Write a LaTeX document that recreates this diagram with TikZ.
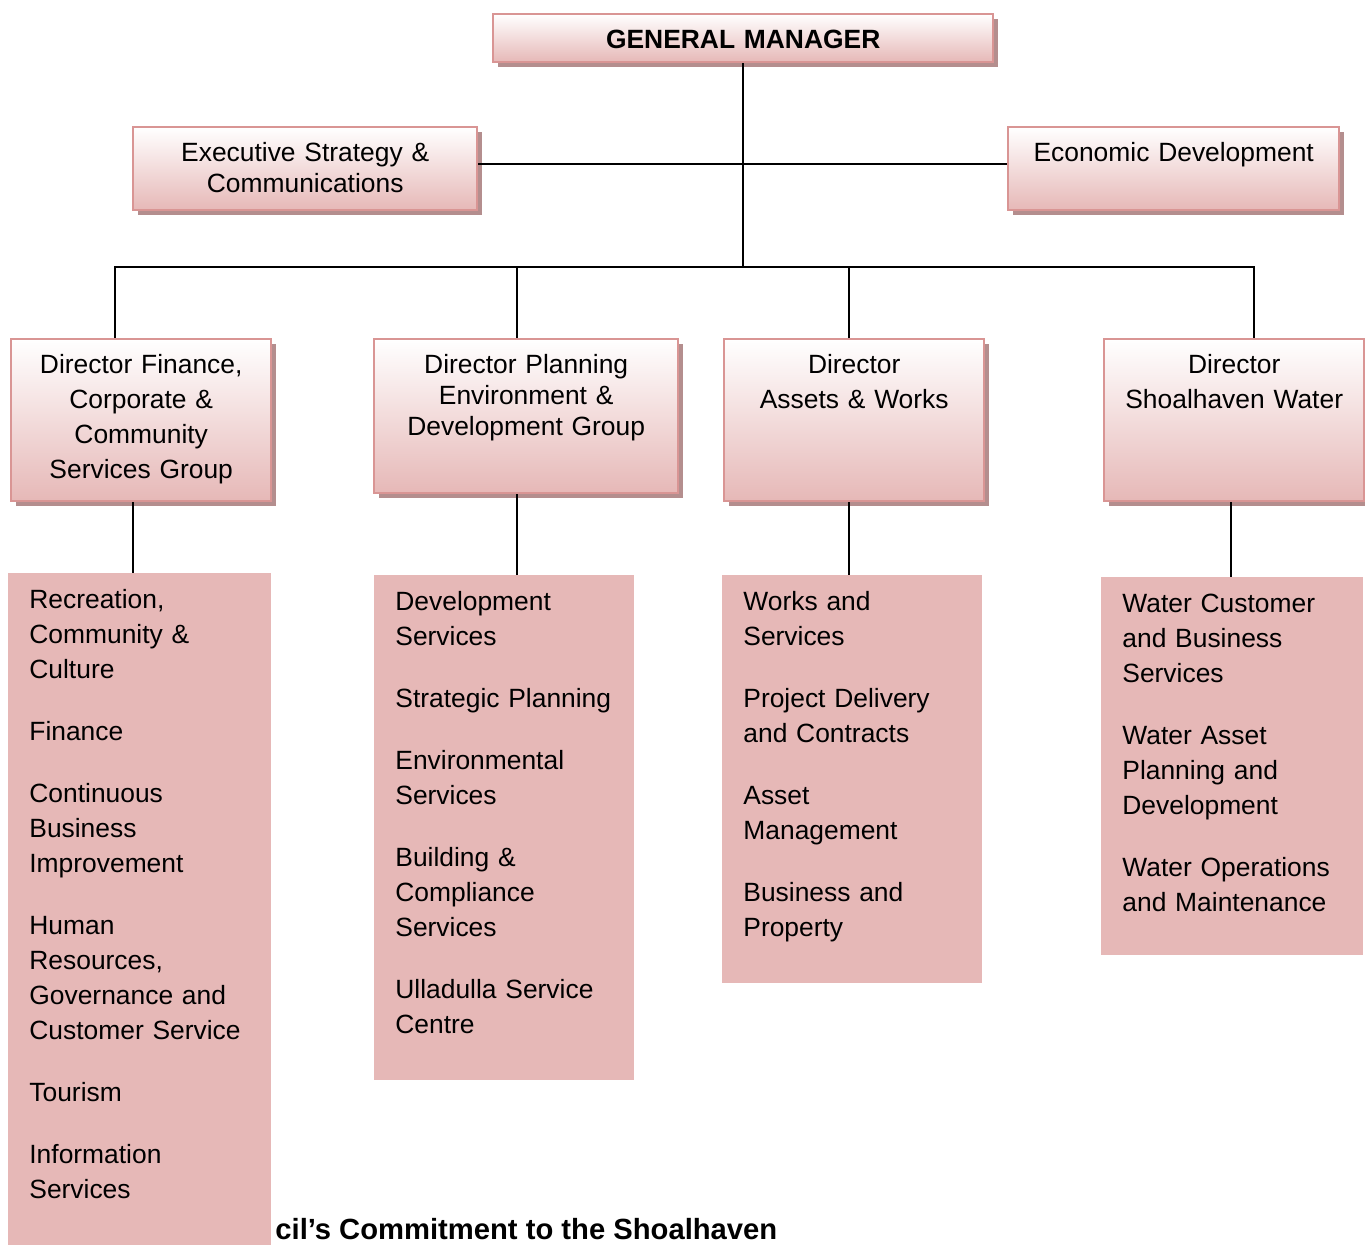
\documentclass[tikz,border=0pt]{standalone}
\usepackage{fontspec}
\setmainfont{Liberation Sans}
\usetikzlibrary{shadows}
\definecolor{boxPink}{RGB}{230,184,183}
\definecolor{boxEdge}{RGB}{217,149,148}
\definecolor{boxShade}{RGB}{180,142,142}

\tikzset{
  headbox/.style={draw=boxEdge, line width=1.2pt, top color=white, bottom color=boxPink,
    drop shadow={shadow xshift=2.5pt, shadow yshift=-2.5pt, fill=boxShade, opacity=1},
    anchor=north west, align=center, inner sep=0pt, text height=17.2pt,
    font=\fontsize{13.2}{17.5}\selectfont},
  unitbox/.style={fill=boxPink, anchor=north west, align=left, inner xsep=10.5pt,
    inner ysep=0pt, text height=17.7pt, font=\fontsize{13.2}{17.5}\selectfont},
  link/.style={line width=1pt}
}

\begin{document}
\begin{tikzpicture}[x=0.5pt, y=-0.5pt]
  \useasboundingbox (0,0) rectangle (1365,1245);

  \node[anchor=base west, inner sep=0pt, font=\bfseries\fontsize{14.6}{16}\selectfont] (tagline) at (275,1239) {cil’s Commitment to the Shoalhaven};

  \node[headbox, text width=250pt, text depth=6.8pt] (gm) at (492,13) {\textbf{GENERAL MANAGER}};
  \node[headbox, text width=172pt, text depth=24.3pt, font=\fontsize{13.2}{15.5}\selectfont] (exec) at (132,126) {Executive Strategy \&\\ Communications};
  \node[headbox, text width=165.5pt, text depth=24.3pt] (econ) at (1007,126) {Economic Development};

  \node[headbox, text width=130pt, text depth=63.8pt] (dfin) at (10,338) {Director Finance,\\ Corporate \&\\ Community\\ Services Group};
  \node[headbox, text width=152pt, text depth=59.8pt, font=\fontsize{13.2}{15.5}\selectfont] (dplan) at (373,338) {Director Planning\\ Environment \&\\ Development Group};
  \node[headbox, text width=130pt, text depth=63.8pt] (dworks) at (723,338) {Director\\ Assets \& Works};
  \node[headbox, text width=130pt, text depth=63.8pt] (dwater) at (1103,338) {Director\\ Shoalhaven Water};

  \node[unitbox, text width=110.5pt, text depth=325.8pt] (ufin) at (8,573) {Recreation,\\ Community \&\\ Culture\\[13.5pt] Finance\\[13.5pt] Continuous\\ Business\\ Improvement\\[13.5pt] Human\\ Resources,\\ Governance and\\ Customer Service\\[13.5pt] Tourism\\[13.5pt] Information\\ Services};
  \node[unitbox, text width=109pt, text depth=234.8pt] (uplan) at (374,575) {Development\\ Services\\[13.5pt] Strategic Planning\\[13.5pt] Environmental\\ Services\\[13.5pt] Building \&\\ Compliance\\ Services\\[13.5pt] Ulladulla Service\\ Centre};
  \node[unitbox, text width=109pt, text depth=186.3pt] (uworks) at (722,575) {Works and\\ Services\\[13.5pt] Project Delivery\\ and Contracts\\[13.5pt] Asset\\ Management\\[13.5pt] Business and\\ Property};
  \node[unitbox, text width=110pt, text depth=171.3pt] (uwater) at (1101,577) {Water Customer\\ and Business\\ Services\\[13.5pt] Water Asset\\ Planning and\\ Development\\[13.5pt] Water Operations\\ and Maintenance};

  \coordinate (bus) at (740,267);
  \coordinate (dfintop) at ([xshift=-13pt]dfin.north);
  \coordinate (dplantop) at ([xshift=-4.5pt]dplan.north);
  \coordinate (dworkstop) at ([xshift=-2.5pt]dworks.north);
  \coordinate (dwatertop) at ([xshift=10pt]dwater.north);
  \coordinate (dfinfoot) at ([xshift=-4pt]dfin.south);
  \coordinate (dplanfoot) at ([xshift=-4.5pt]dplan.south);
  \coordinate (dworksfoot) at ([xshift=-2.5pt]dworks.south);
  \coordinate (dwaterfoot) at ([xshift=-1.5pt]dwater.south);

  \draw[link] (gm.south) -- (gm.south |- bus);
  \draw[link] ([yshift=2.25pt]exec.east) -- ([yshift=2.25pt]econ.west);
  \draw[link] (dfintop) |- (bus) -| (dwatertop);
  \draw[link] (dplantop) -- (dplantop |- bus);
  \draw[link] (dworkstop) -- (dworkstop |- bus);

  \draw[link] (dfinfoot) -- (dfinfoot |- ufin.north);
  \draw[link] (dplanfoot) -- (dplanfoot |- uplan.north);
  \draw[link] (dworksfoot) -- (dworksfoot |- uworks.north);
  \draw[link] (dwaterfoot) -- (dwaterfoot |- uwater.north);
\end{tikzpicture}
\end{document}
